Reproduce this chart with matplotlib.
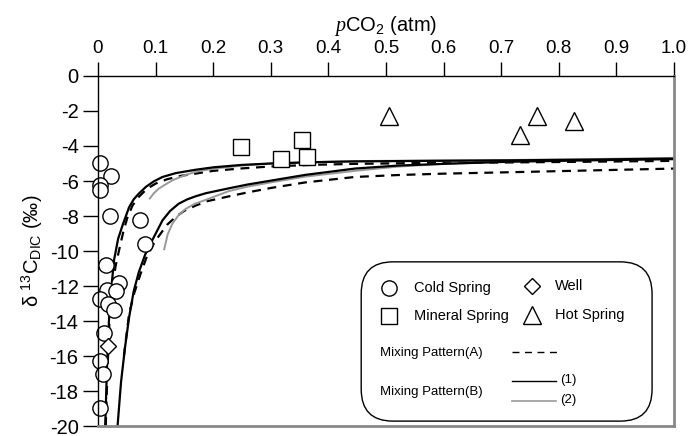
import matplotlib
matplotlib.use('Agg')
import matplotlib.pyplot as plt
from matplotlib.patches import FancyBboxPatch

plt.rcParams['font.family'] = ['Liberation Sans', 'DejaVu Sans']
plt.rcParams['mathtext.fontset'] = 'custom'
plt.rcParams['mathtext.rm'] = 'Liberation Sans'
plt.rcParams['mathtext.it'] = 'Liberation Serif:italic'

# measured samples
cold_x = [0.003, 0.022, 0.003, 0.003, 0.021, 0.073, 0.082, 0.014, 0.037, 0.016, 0.032, 0.003, 0.018, 0.028, 0.011, 0.003, 0.008, 0.003]
cold_y = [-5.0, -5.7, -6.2, -6.5, -8.0, -8.2, -9.6, -10.8, -11.8, -12.2, -12.3, -12.75, -13.0, -13.35, -14.7, -16.3, -17.0, -18.95]
well_x = [0.017]
well_y = [-15.45]
mineral_x = [0.248, 0.318, 0.355, 0.363]
mineral_y = [-4.05, -4.75, -3.65, -4.65]
hot_x = [0.505, 0.733, 0.763, 0.826]
hot_y = [-2.3, -3.35, -2.3, -2.55]

# mixing curves
a1_x = [0.0135, 0.0165, 0.020, 0.025, 0.031, 0.037, 0.044, 0.051, 0.060, 0.071, 0.085, 0.100, 0.120, 0.145, 0.169, 0.20, 0.25, 0.30, 0.37, 0.446, 0.57, 0.713, 0.85, 1.0]
a1_y = [-20, -16.8, -14.0, -12.0, -10.8, -9.9, -8.9, -8.1, -7.4, -6.9, -6.45, -6.15, -5.9, -5.7, -5.58, -5.42, -5.28, -5.17, -5.08, -5.02, -4.97, -4.94, -4.9, -4.85]
b1_x = [0.0126, 0.0155, 0.019, 0.0235, 0.028, 0.035, 0.043, 0.054, 0.062, 0.070, 0.083, 0.097, 0.112, 0.135, 0.169, 0.20, 0.25, 0.30, 0.37, 0.446, 0.57, 0.713, 0.85, 1.0]
b1_y = [-20, -16.8, -14.0, -12.0, -10.5, -9.3, -8.5, -7.5, -7.05, -6.75, -6.34, -6.02, -5.77, -5.55, -5.36, -5.22, -5.08, -5.0, -4.93, -4.88, -4.85, -4.82, -4.78, -4.72]
c1_x = [0.090, 0.097, 0.105, 0.117, 0.130, 0.150, 0.170, 0.20, 0.25, 0.30, 0.37, 0.446, 0.57, 0.713, 0.85, 1.0]
c1_y = [-7.0, -6.7, -6.45, -6.2, -5.95, -5.68, -5.47, -5.3, -5.12, -5.0, -4.92, -4.86, -4.83, -4.8, -4.75, -4.68]

a2_x = [0.045, 0.054, 0.063, 0.074, 0.085, 0.100, 0.120, 0.135, 0.150, 0.170, 0.190, 0.227, 0.26, 0.30, 0.36, 0.446, 0.52, 0.60, 0.713, 0.85, 1.0]
a2_y = [-16.0, -13.6, -12.4, -11.3, -10.3, -9.4, -8.5, -8.05, -7.7, -7.4, -7.15, -6.88, -6.65, -6.4, -6.08, -5.77, -5.66, -5.58, -5.5, -5.4, -5.29]
b2_x = [0.034, 0.040, 0.047, 0.054, 0.062, 0.071, 0.082, 0.094, 0.112, 0.125, 0.140, 0.155, 0.169, 0.187, 0.227, 0.26, 0.30, 0.36, 0.446, 0.52, 0.60, 0.713, 0.85, 1.0]
b2_y = [-20, -17.5, -15.5, -13.8, -12.3, -11.2, -10.2, -9.4, -8.25, -7.72, -7.3, -7.05, -6.88, -6.7, -6.42, -6.2, -5.98, -5.65, -5.29, -5.12, -5.02, -4.9, -4.82, -4.75]
c2_x = [0.115, 0.121, 0.129, 0.140, 0.152, 0.168, 0.187, 0.227, 0.26, 0.30, 0.36, 0.446, 0.52, 0.60, 0.713, 0.85, 1.0]
c2_y = [-9.9, -9.05, -8.45, -7.95, -7.6, -7.3, -7.08, -6.58, -6.32, -6.08, -5.75, -5.42, -5.18, -5.02, -4.88, -4.8, -4.72]

xticks = [0, 0.1, 0.2, 0.3, 0.4, 0.5, 0.6, 0.7, 0.8, 0.9, 1.0]
xtick_labels = ['0', '0.1', '0.2', '0.3', '0.4', '0.5', '0.6', '0.7', '0.8', '0.9', '1.0']
yticks = [0, -2, -4, -6, -8, -10, -12, -14, -16, -18, -20]
ytick_labels = ['0', '-2', '-4', '-6', '-8', '-10', '-12', '-14', '-16', '-18', '-20']

gray = '#999999'

fig = plt.figure(figsize=(6.88, 4.36), dpi=100)
ax = fig.add_axes([0.1424, 0.0229, 0.8372, 0.8028])

ax.plot(a1_x, a1_y, 'k--', lw=1.6, dashes=(4, 3))
ax.plot(a2_x, a2_y, 'k--', lw=1.6, dashes=(4, 3))
ax.plot(c1_x, c1_y, '-', color=gray, lw=1.4)
ax.plot(c2_x, c2_y, '-', color=gray, lw=1.4)
ax.plot(b1_x, b1_y, 'k-', lw=1.6)
ax.plot(b2_x, b2_y, 'k-', lw=1.6)

mk = dict(linestyle='none', mfc='white', mec='black', mew=1.0, clip_on=False)
ax.plot(cold_x, cold_y, 'o', ms=11, **mk)
ax.plot(well_x, well_y, 'D', ms=8, **mk)
ax.plot(mineral_x, mineral_y, 's', ms=11, **mk)
ax.plot(hot_x, hot_y, '^', ms=13, **mk)

ax.set_xlim(0, 1.0)
ax.set_ylim(-20, 0)
ax.xaxis.tick_top()
ax.xaxis.set_label_position('top')
ax.set_xticks(xticks)
ax.set_xticklabels(xtick_labels)
ax.set_yticks(yticks)
ax.set_yticklabels(ytick_labels)
ax.tick_params(axis='x', direction='out', length=10, width=1, labelsize=13.5, pad=4)
ax.tick_params(axis='y', direction='out', length=11, width=1, labelsize=14.5, pad=3)

ax.set_xlabel(r'$\it{p}$CO$_2$ (atm)', fontsize=14.5, labelpad=6)
ax.set_ylabel(r'δ $^{13}$C$_{\rm DIC}$ (‰)', fontsize=14.5, labelpad=3)

ax.spines['top'].set_linewidth(1.0)
ax.spines['left'].set_linewidth(1.0)
for s in ['right', 'bottom']:
    ax.spines[s].set_color('#888888')
    ax.spines[s].set_linewidth(2.0)

# legend box drawn by hand
box = FancyBboxPatch((0.457, 0.014), 0.505, 0.455, boxstyle='round,pad=0,rounding_size=0.055',
                     transform=ax.transAxes, fc='white', ec='black', lw=1.0, zorder=5,
                     mutation_aspect=1.66)
ax.add_patch(box)
tr = ax.transAxes
lk = dict(transform=tr, linestyle='none', mfc='white', mec='black', mew=1.0, zorder=6, clip_on=False)
ax.plot([0.505], [0.394], 'o', ms=11, **lk)
ax.plot([0.505], [0.314], 's', ms=11, **lk)
ax.plot([0.753], [0.400], 'D', ms=8, **lk)
ax.plot([0.753], [0.318], '^', ms=13, **lk)
tk = dict(transform=tr, fontsize=10.5, va='center', ha='left', zorder=6)
ax.text(0.548, 0.394, 'Cold Spring', **tk)
ax.text(0.548, 0.314, 'Mineral Spring', **tk)
ax.text(0.794, 0.400, 'Well', **tk)
ax.text(0.794, 0.318, 'Hot Spring', **tk)
tk2 = dict(transform=tr, fontsize=9.5, va='center', ha='left', zorder=6)
ax.text(0.490, 0.209, 'Mixing Pattern(A)', **tk2)
ax.text(0.490, 0.097, 'Mixing Pattern(B)', **tk2)
ax.plot([0.718, 0.800], [0.211, 0.211], 'k--', lw=1.0, dashes=(5, 4), transform=tr, zorder=6)
ax.plot([0.718, 0.795], [0.129, 0.129], 'k-', lw=1.0, transform=tr, zorder=6)
ax.plot([0.718, 0.795], [0.071, 0.071], '-', color=gray, lw=1.2, transform=tr, zorder=6)
ax.text(0.803, 0.131, '(1)', **tk2)
ax.text(0.803, 0.073, '(2)', **tk2)

fig.savefig('out.png', dpi=100)
